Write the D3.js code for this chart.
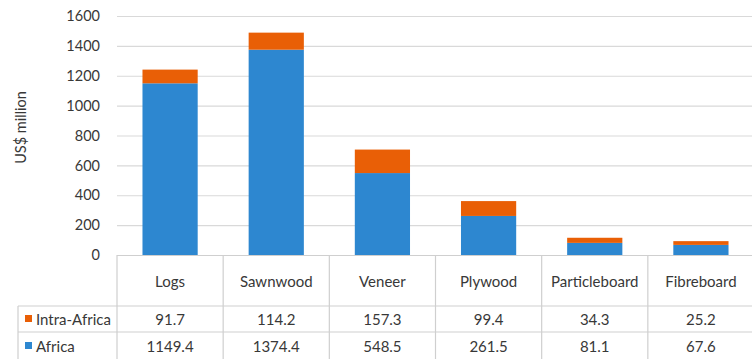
<!DOCTYPE html>
<html>
<head>
<meta charset="utf-8">
<script src="https://cdn.jsdelivr.net/npm/d3@7"></script>
<style>
  html, body { margin: 0; padding: 0; background: #fff; }
  svg { display: block; font-family: Lato, "Open Sans", sans-serif; }
</style>
</head>
<body>
<svg id="chart" width="752" height="359"></svg>
<script>
// Wood product exports, US$ million
const categories = ["Logs", "Sawnwood", "Veneer", "Plywood", "Particleboard", "Fibreboard"];
const africa = [1149.4, 1374.4, 548.5, 261.5, 81.1, 67.6];
const intraAfrica = [91.7, 114.2, 157.3, 99.4, 34.3, 25.2];
const yTicks = [0, 200, 400, 600, 800, 1000, 1200, 1400, 1600];
const seriesNames = ["Intra-Africa", "Africa"];
const colors = { "Africa": "#2d87d0", "Intra-Africa": "#e95f06" };

const svg = d3.select("#chart");
const plotLeft = 117, plotRight = 754, plotTop = 16, zeroY = 255;
const tableLeft = 18, rowTop1 = 306, rowTop2 = 332, tableBottom = 359;
const gridColor = "#d9d9d9", lineColor = "#cfcfcf", textColor = "#383838";

const x = d3.scaleBand().domain(categories).range([plotLeft, plotRight])
  .paddingInner(0.48).paddingOuter(0.24);
const cell = d3.scaleBand().domain(categories).range([plotLeft, plotRight]);
const y = d3.scaleLinear().domain([0, 1600]).range([zeroY, plotTop]);

// gridlines
svg.append("g")
  .attr("transform", `translate(${plotLeft},0)`)
  .call(d3.axisLeft(y).tickValues(yTicks.slice(1)).tickSize(-(plotRight - plotLeft)).tickFormat(""))
  .call(g => g.select(".domain").remove())
  .call(g => g.selectAll("line").attr("stroke", gridColor).attr("stroke-width", 1.2));

// y tick labels
svg.append("g")
  .attr("transform", `translate(${plotLeft - 17},0)`)
  .call(d3.axisLeft(y).tickValues(yTicks).tickSize(0).tickPadding(0).tickFormat(d3.format("d")))
  .call(g => g.select(".domain").remove())
  .call(g => g.selectAll("text")
    .attr("fill", textColor).style("font-size", "14.5px").style("font-family", "Lato, sans-serif"));

// y axis title
svg.append("text")
  .attr("transform", `translate(26,${(plotTop + zeroY) / 2 - 8}) rotate(-90)`)
  .attr("text-anchor", "middle")
  .attr("fill", textColor)
  .style("font-size", "14.5px")
  .text("US$ million");

// stacked bars
const rows = categories.map((c, i) => ({ cat: c, "Africa": africa[i], "Intra-Africa": intraAfrica[i] }));
const stack = d3.stack().keys(["Africa", "Intra-Africa"])(rows);
svg.append("g").selectAll("g").data(stack).join("g")
  .attr("fill", d => colors[d.key])
  .selectAll("rect").data(d => d).join("rect")
  .attr("x", d => x(d.data.cat))
  .attr("width", x.bandwidth())
  .attr("y", d => y(d[1]))
  .attr("height", d => y(d[0]) - y(d[1]));

// data table
const tg = svg.append("g").attr("stroke", lineColor).attr("stroke-width", 1.2);
tg.append("line").attr("x1", plotLeft).attr("x2", plotRight).attr("y1", zeroY + 0.5).attr("y2", zeroY + 0.5);
tg.append("line").attr("x1", tableLeft).attr("x2", plotRight).attr("y1", rowTop1).attr("y2", rowTop1);
tg.append("line").attr("x1", tableLeft).attr("x2", plotRight).attr("y1", rowTop2).attr("y2", rowTop2);
tg.append("line").attr("x1", tableLeft).attr("x2", tableLeft).attr("y1", rowTop1).attr("y2", tableBottom);
tg.selectAll("line.v").data(categories).join("line").attr("class", "v")
  .attr("x1", d => cell(d)).attr("x2", d => cell(d))
  .attr("y1", zeroY).attr("y2", tableBottom);

const txt = svg.append("g").attr("fill", textColor).style("font-size", "15px").attr("text-anchor", "middle");
txt.selectAll("text.cat").data(categories).join("text").attr("class", "cat")
  .attr("x", d => cell(d) + cell.bandwidth() / 2).attr("y", 287).text(d => d);
txt.selectAll("text.v1").data(intraAfrica).join("text").attr("class", "v1")
  .attr("x", (d, i) => cell(categories[i]) + cell.bandwidth() / 2).attr("y", 325).text(d => d.toFixed(1));
txt.selectAll("text.v2").data(africa).join("text").attr("class", "v2")
  .attr("x", (d, i) => cell(categories[i]) + cell.bandwidth() / 2).attr("y", 352).text(d => d.toFixed(1));

// legend keys in the table's row headers
const rowY = { "Intra-Africa": 319, "Africa": 346 };
seriesNames.forEach(s => {
  svg.append("rect").attr("x", 25).attr("y", rowY[s] - 4).attr("width", 7).attr("height", 7).attr("fill", colors[s]);
  svg.append("text").attr("x", 36).attr("y", rowY[s] + 6).attr("fill", textColor)
    .style("font-size", "15px").text(s);
});
</script>
</body>
</html>
